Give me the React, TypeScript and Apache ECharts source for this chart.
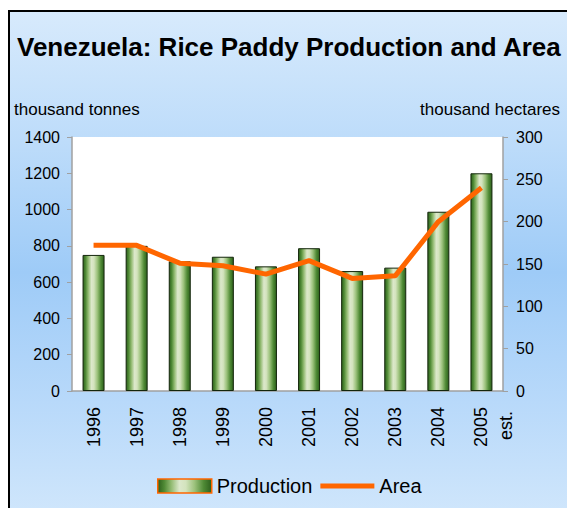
import React, { useEffect, useRef } from "react";
import * as echarts from "echarts";

// Venezuela rice paddy: production (thousand tonnes) and harvested area (thousand hectares)
const years = ["1996", "1997", "1998", "1999", "2000", "2001", "2002", "2003", "2004", "2005"];
const production = [750, 800, 715, 740, 687, 787, 661, 680, 988, 1200];
const area = [172, 172, 151, 148, 138, 154, 133, 136, 200, 240];
const estimateNote = "est.";

const titleText = "Venezuela: Rice Paddy Production and Area";
const leftUnit = "thousand tonnes";
const rightUnit = "thousand hectares";

const FONT = "Arial, 'Liberation Sans', Helvetica, sans-serif";

const barGradient = new echarts.graphic.LinearGradient(0, 0, 1, 0, [
  { offset: 0, color: "#2c5f1c" },
  { offset: 0.12, color: "#4f8a35" },
  { offset: 0.25, color: "#93bb72" },
  { offset: 0.4, color: "#dce8cb" },
  { offset: 0.52, color: "#d3e3bd" },
  { offset: 0.68, color: "#9cc27c" },
  { offset: 0.85, color: "#4f8a35" },
  { offset: 1, color: "#2c5f1c" },
]);

export default function App() {
  const ref = useRef<HTMLDivElement>(null);

  useEffect(() => {
    if (!ref.current) return;
    const chart = echarts.init(ref.current, undefined, { renderer: "svg" });
    const axisGray = "#a0a0a0";
    chart.setOption({
      animation: false,
      backgroundColor: "transparent",
      textStyle: { fontFamily: FONT },
      title: {
        text: titleText,
        left: 17,
        top: 34,
        padding: 0,
        textStyle: { fontFamily: FONT, fontSize: 26, fontWeight: "bold", color: "#000" },
      },
      legend: {
        left: 152,
        top: 471,
        itemWidth: 54,
        itemHeight: 14,
        itemGap: 8,
        textStyle: { fontFamily: FONT, fontSize: 20, color: "#000" },
        data: [
          { name: "Production", icon: "rect", itemStyle: { borderColor: "#ff6600", borderWidth: 1.5 } },
          { name: "Area", icon: "path://M0,0L56,0L56,5L0,5Z", itemStyle: { color: "#ff6600", borderWidth: 0 } },
        ],
      },
      grid: { left: 72, right: 64, top: 137, bottom: 117, show: true, backgroundColor: "#ffffff", borderWidth: 0 },
      xAxis: {
        type: "category",
        data: years,
        axisLine: { lineStyle: { color: axisGray, width: 1.5 } },
        axisTick: { show: false },
        axisLabel: { rotate: 90, margin: 16, fontSize: 18, color: "#000", fontFamily: FONT },
      },
      yAxis: [
        {
          type: "value",
          min: 0,
          max: 1400,
          interval: 200,
          splitLine: { show: false },
          axisLine: { show: true, lineStyle: { color: axisGray, width: 1.5 } },
          axisTick: { show: true, length: 5, lineStyle: { color: axisGray } },
          axisLabel: {
            margin: 12,
            fontSize: 16,
            color: "#000",
            fontFamily: FONT,
            formatter: (v: number) => String(v),
          },
        },
        {
          type: "value",
          min: 0,
          max: 300,
          interval: 50,
          splitLine: { show: false },
          axisLine: { show: true, lineStyle: { color: axisGray, width: 1.5 } },
          axisTick: { show: true, length: 5, lineStyle: { color: axisGray } },
          axisLabel: {
            margin: 13,
            fontSize: 16,
            color: "#000",
            fontFamily: FONT,
            formatter: (v: number) => String(v),
          },
        },
      ],
      graphic: [
        {
          type: "text",
          left: 14,
          top: 101,
          style: { text: leftUnit, fontSize: 17, fill: "#000", fontFamily: FONT },
        },
        {
          type: "text",
          right: 7,
          top: 101,
          style: { text: rightUnit, fontSize: 17, fill: "#000", fontFamily: FONT },
        },
        {
          type: "text",
          x: 506,
          y: 411,
          rotation: Math.PI / 2,
          style: {
            text: estimateNote,
            fontSize: 18,
            fill: "#000",
            fontFamily: FONT,
            align: "right",
            verticalAlign: "middle",
          },
        },
      ],
      series: [
        {
          name: "Production",
          type: "bar",
          data: production,
          barWidth: 22,
          itemStyle: { color: barGradient, borderColor: "#14260c", borderWidth: 1 },
        },
        {
          name: "Area",
          type: "line",
          yAxisIndex: 1,
          data: area,
          symbol: "none",
          lineStyle: { color: "#ff6600", width: 5 },
          itemStyle: { color: "#ff6600" },
          z: 5,
        },
      ],
    });
    return () => chart.dispose();
  }, []);

  return (
    <div style={{ position: "absolute", left: 0, top: 0, width: 567, height: 508, overflow: "hidden" }}>
      <div
        style={{
          position: "absolute",
          left: 8,
          top: 10,
          width: 580,
          height: 520,
          border: "2px solid #000",
          background:
            "linear-gradient(to bottom, #d7eafc 0%, #bddcfa 25%, #9ecbf7 50%, #b8d9fa 75%, #d3e8fc 100%)",
        }}
      />
      <div ref={ref} style={{ position: "absolute", left: 0, top: 0, width: 567, height: 508 }} />
    </div>
  );
}
